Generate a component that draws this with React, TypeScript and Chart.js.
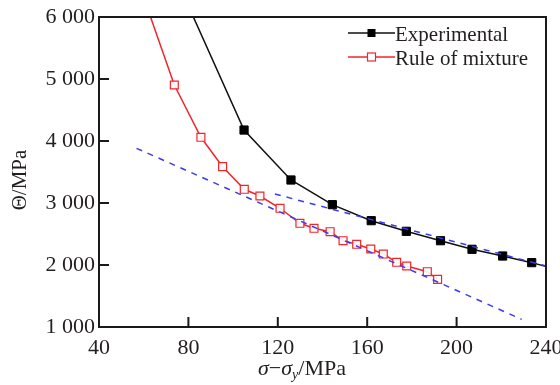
import React, { useEffect, useRef } from "react";
import { Chart, registerables } from "chart.js";

Chart.register(...registerables);

// Experimental (first and last points lie outside the frame: line continues to the border)
const expX = [76, 104.9, 125.9, 144.4, 161.8, 177.5, 192.8, 206.9, 220.6, 233.6, 248];
const expY = [6500, 4177, 3371, 2973, 2715, 2543, 2392, 2253, 2145, 2038, 1895];
const expHidden = [true, false, false, false, false, false, false, false, false, false, true];

// Rule of mixture
const romX = [58, 73.7, 85.6, 95.3, 105.0, 112.0, 121.0, 129.9, 136.2, 143.4, 149.2, 155.3, 161.6, 167.2, 173.2, 177.7, 186.9, 191.5];
const romY = [6520, 4903, 4060, 3586, 3221, 3113, 2915, 2673, 2592, 2537, 2392, 2334, 2258, 2177, 2044, 1984, 1892, 1769];
const romHidden = [true, false, false, false, false, false, false, false, false, false, false, false, false, false, false, false, false, false];

// Blue dashed fit lines
const fit1X = [56.8, 229.1];
const fit1Y = [3882, 1124];
const fit2X = [118.7, 240];
const fit2Y = [3145, 1984];

const xTicks = [40, 80, 120, 160, 200, 240];
const yTicks = [1000, 2000, 3000, 4000, 5000, 6000];

const legendLabels = ["Experimental", "Rule of mixture"];

const FONT = "'Liberation Serif', 'Times New Roman', serif";
const TEXT = "#231f20";
const RED = "#f0262b";
const BLUE = "#3a3af0";

const toPts = (xs: number[], ys: number[]) => xs.map((x, i) => ({ x, y: ys[i] }));

const fmt = (v: number) => {
  const s = String(v);
  return s.length > 3 ? s.slice(0, -3) + " " + s.slice(-3) : s;
};

const decorPlugin = {
  id: "decor",
  afterDatasetsDraw(chart: any) {
    const { ctx, chartArea } = chart;
    const { left, right, top, bottom } = chartArea;
    const xs = chart.scales.x;
    const ys = chart.scales.y;
    ctx.save();
    ctx.strokeStyle = "#1a1a1a";
    ctx.lineWidth = 2;
    ctx.strokeRect(left, top, right - left, bottom - top);
    ctx.beginPath();
    yTicks.forEach((v) => {
      const py = ys.getPixelForValue(v);
      ctx.moveTo(left, py);
      ctx.lineTo(left + 10, py);
    });
    xTicks.forEach((v) => {
      const px = xs.getPixelForValue(v);
      ctx.moveTo(px, bottom);
      ctx.lineTo(px, bottom - 10);
    });
    ctx.stroke();

    // legend
    const lx0 = 348, lx1 = 395, rows = [33, 57];
    const colors = ["#111", RED];
    rows.forEach((ry, i) => {
      ctx.strokeStyle = colors[i];
      ctx.lineWidth = 1.5;
      ctx.beginPath();
      ctx.moveTo(lx0, ry);
      ctx.lineTo(lx1, ry);
      ctx.stroke();
      const mx = (lx0 + lx1) / 2;
      if (i === 0) {
        ctx.fillStyle = "#000";
        ctx.fillRect(mx - 4, ry - 4, 8, 8);
      } else {
        ctx.fillStyle = "#fff";
        ctx.fillRect(mx - 4, ry - 4, 8, 8);
        ctx.strokeStyle = RED;
        ctx.lineWidth = 1.2;
        ctx.strokeRect(mx - 4, ry - 4, 8, 8);
      }
      ctx.fillStyle = TEXT;
      ctx.font = `21px ${FONT}`;
      ctx.textAlign = "left";
      ctx.textBaseline = "alphabetic";
      ctx.fillText(legendLabels[i], lx1, ry + 8);
    });

    // x axis title: σ−σy/MPa
    ctx.fillStyle = TEXT;
    let tx = 258;
    const by = 375;
    ctx.font = `italic 22px ${FONT}`;
    ctx.fillText("σ", tx, by);
    tx += ctx.measureText("σ").width;
    ctx.font = `22px ${FONT}`;
    ctx.fillText("−", tx, by);
    tx += ctx.measureText("−").width;
    ctx.font = `italic 22px ${FONT}`;
    ctx.fillText("σ", tx, by);
    tx += ctx.measureText("σ").width;
    ctx.font = `italic 14px ${FONT}`;
    ctx.fillText("y", tx, by + 4);
    tx += ctx.measureText("y").width;
    ctx.font = `22px ${FONT}`;
    ctx.fillText("/MPa", tx, by);

    // y axis title
    ctx.save();
    ctx.translate(26, 180);
    ctx.rotate(-Math.PI / 2);
    ctx.font = `21px ${FONT}`;
    ctx.textAlign = "center";
    ctx.fillText("Θ/MPa", 0, 0);
    ctx.restore();
    ctx.restore();
  },
};

export default function App() {
  const ref = useRef<HTMLCanvasElement>(null);
  useEffect(() => {
    if (!ref.current) return;
    const chart = new Chart(ref.current, {
      type: "scatter",
      data: {
        datasets: [
          {
            label: "fit1",
            data: toPts(fit1X, fit1Y),
            showLine: true,
            borderColor: BLUE,
            borderWidth: 1.5,
            borderDash: [6, 6],
            pointRadius: 0,
          },
          {
            label: "fit2",
            data: toPts(fit2X, fit2Y),
            showLine: true,
            borderColor: BLUE,
            borderWidth: 1.5,
            borderDash: [6, 6],
            pointRadius: 0,
          },
          {
            label: legendLabels[1],
            data: toPts(romX, romY),
            showLine: true,
            borderColor: RED,
            borderWidth: 1.5,
            pointStyle: "rect",
            pointRadius: (c: any) => (romHidden[c.dataIndex] ? 0 : 5.6),
            pointBackgroundColor: "rgba(255,255,255,0.9)",
            pointBorderColor: RED,
            pointBorderWidth: 1.2,
          },
          {
            label: legendLabels[0],
            data: toPts(expX, expY),
            showLine: true,
            borderColor: "#111",
            borderWidth: 1.5,
            pointStyle: "rect",
            pointRadius: (c: any) => (expHidden[c.dataIndex] ? 0 : 5.8),
            pointBackgroundColor: "#000",
            pointBorderColor: "#000",
            pointBorderWidth: 1,
          },
        ],
      },
      options: {
        animation: false,
        responsive: false,
        maintainAspectRatio: false,
        layout: { padding: { left: 0, right: 14, top: 17, bottom: 0 } },
        plugins: { legend: { display: false }, tooltip: { enabled: false } },
        scales: {
          x: {
            type: "linear",
            min: 40,
            max: 240,
            afterBuildTicks: (s: any) => {
              s.ticks = xTicks.map((v) => ({ value: v }));
            },
            afterFit: (s: any) => {
              s.height = 58;
              s.paddingLeft = 0;
              s.paddingRight = 0;
            },
            grid: { display: false, drawTicks: false },
            border: { display: false },
            ticks: {
              padding: 8,
              color: TEXT,
              maxRotation: 0,
              font: { family: FONT, size: 22 },
            },
          },
          y: {
            type: "linear",
            min: 1000,
            max: 6000,
            afterBuildTicks: (s: any) => {
              s.ticks = yTicks.map((v) => ({ value: v }));
            },
            afterFit: (s: any) => {
              s.width = 99;
              s.paddingTop = 0;
              s.paddingBottom = 0;
            },
            grid: { display: false, drawTicks: false },
            border: { display: false },
            ticks: {
              padding: 4,
              color: TEXT,
              font: { family: FONT, size: 22 },
              callback: (v: any) => fmt(Number(v)),
            },
          },
        },
      },
      plugins: [decorPlugin],
    });
    return () => chart.destroy();
  }, []);
  return (
    <div style={{ position: "fixed", left: 0, top: 0, width: 560, height: 385, background: "#fff" }}>
      <canvas ref={ref} width={560} height={385} style={{ width: 560, height: 385 }} />
    </div>
  );
}
